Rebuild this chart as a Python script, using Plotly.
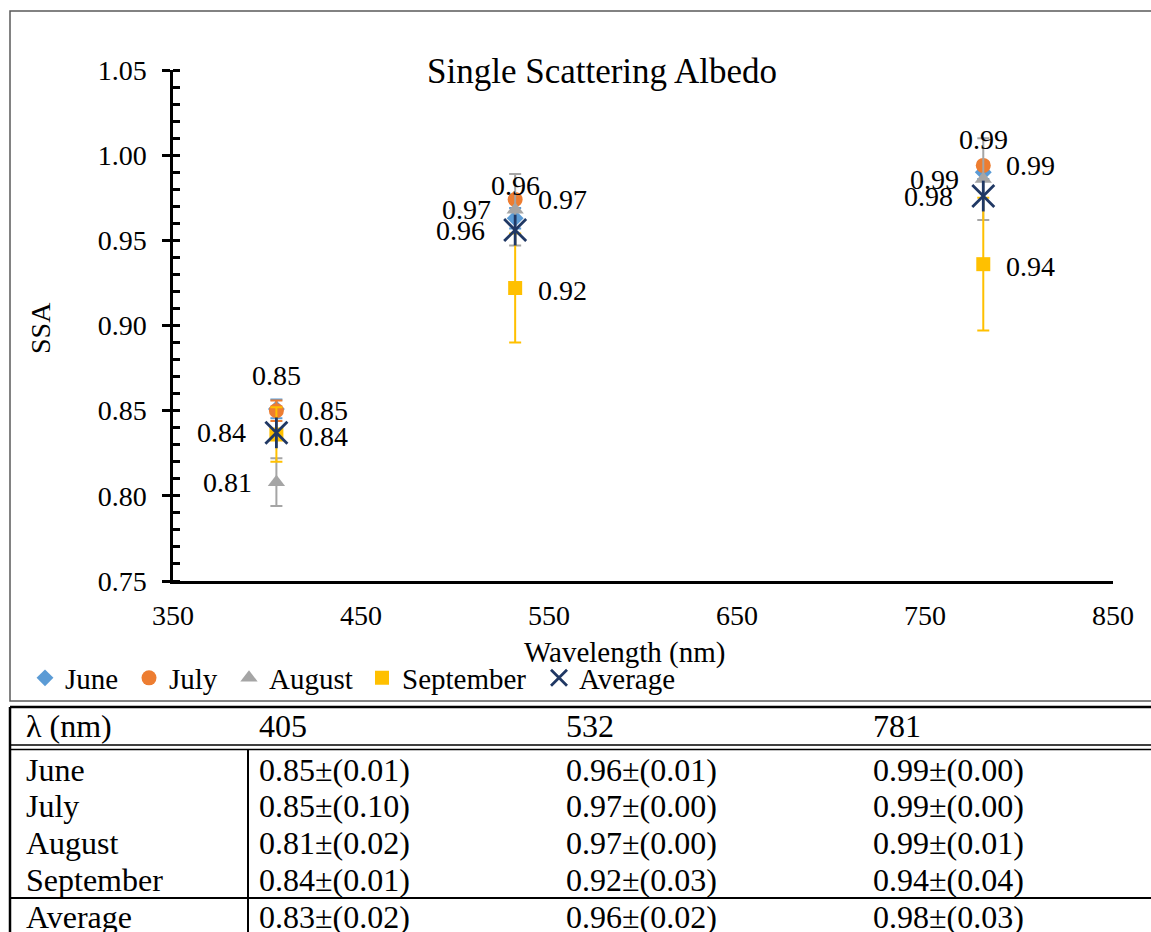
import plotly.graph_objects as go

# ---- data -------------------------------------------------------------
wavelengths = [405, 532, 781]

june = [0.851, 0.963, 0.990]
july = [0.850, 0.974, 0.994]
august = [0.808, 0.968, 0.986]
september = [0.836, 0.922, 0.936]
average = [0.837, 0.956, 0.976]

june_err = [0.0055, 0.006, 0.004]
july_err = [0.006, 0.002, 0.002]
august_err = [0.014, 0.021, 0.024]
september_err = [0.016, 0.032, 0.039]

x_ticks = [350, 450, 550, 650, 750, 850]
y_ticks = [0.75, 0.80, 0.85, 0.90, 0.95, 1.00, 1.05]

table_header = ["λ (nm)", "405", "532", "781"]
table_rows = [
    ["June", "0.85±(0.01)", "0.96±(0.01)", "0.99±(0.00)"],
    ["July", "0.85±(0.10)", "0.97±(0.00)", "0.99±(0.00)"],
    ["August", "0.81±(0.02)", "0.97±(0.00)", "0.99±(0.01)"],
    ["September", "0.84±(0.01)", "0.92±(0.03)", "0.94±(0.04)"],
    ["Average", "0.83±(0.02)", "0.96±(0.02)", "0.98±(0.03)"],
]

# ---- page geometry (pixels) --------------------------------------------
W, H = 1151, 932
FONT = "Liberation Serif, Times New Roman, serif"


def px(x):
    return x / W


def py(y):
    return 1 - y / H


colors = {
    "June": "#5B9BD5",
    "July": "#ED7D31",
    "August": "#A5A5A5",
    "September": "#FFC000",
    "Average": "#203864",
}

# one legend box per series so the entries sit at fixed positions in a row
legend_ids = ["legend", "legend2", "legend3", "legend4", "legend5"]
legend_x = [25, 129, 229, 362, 539]

fig = go.Figure()

series = [
    ("June", june, june_err, "diamond", 13),
    ("July", july, july_err, "circle", 15),
    ("August", august, august_err, "triangle-up", 15),
    ("September", september, september_err, "square", 14),
]
for k, (name, vals, err, sym, size) in enumerate(series):
    fig.add_trace(go.Scatter(
        x=wavelengths, y=vals, name=name, mode="markers", legend=legend_ids[k],
        marker=dict(symbol=sym, size=size, color=colors[name], line=dict(width=0)),
        error_y=dict(type="data", array=err, visible=True, color=colors[name],
                     thickness=2, width=6),
    ))

# Average: star marker built from an X and a vertical stroke
fig.add_trace(go.Scatter(
    x=wavelengths, y=average, name="Average", mode="markers", legend=legend_ids[4],
    marker=dict(symbol="x-thin-open", size=22,
                line=dict(width=2.8, color=colors["Average"]), color=colors["Average"]),
))
fig.add_trace(go.Scatter(
    x=wavelengths, y=average, name="Average", mode="markers", showlegend=False,
    marker=dict(symbol="line-ns-open", size=22,
                line=dict(width=2.8, color=colors["Average"]), color=colors["Average"]),
))

# ---- data labels ----------------------------------------------------------
annotations = []
label_font = dict(family=FONT, size=28, color="black")


def add_label(x, y, xanchor, xshift, yshift):
    annotations.append(dict(
        x=x, y=y, xref="x", yref="y", text=f"{y:.2f}", showarrow=False,
        xanchor=xanchor, yanchor="middle", xshift=xshift, yshift=yshift,
        font=label_font,
    ))


for i, w in enumerate(wavelengths):
    add_label(w, june[i], "center", 0, 33)
    add_label(w, july[i], "left", 21, 0)
    add_label(w, august[i], "right", -22, 0)
    add_label(w, september[i], "left", 21, -2)
    add_label(w, average[i], "right", -28, 0)

# ---- titles -----------------------------------------------------------------
annotations.append(dict(
    x=px(602), y=py(71), xref="paper", yref="paper", text="Single Scattering Albedo",
    showarrow=False, xanchor="center", yanchor="middle",
    font=dict(family=FONT, size=35, color="black"),
))
annotations.append(dict(
    x=px(624), y=py(652), xref="paper", yref="paper", text="Wavelength (nm)",
    showarrow=False, xanchor="center", yanchor="middle",
    font=dict(family=FONT, size=29, color="black"),
))
annotations.append(dict(
    x=px(40), y=py(328), xref="paper", yref="paper", text="SSA", textangle=-90,
    showarrow=False, xanchor="center", yanchor="middle",
    font=dict(family=FONT, size=28, color="black"),
))

# ---- table ------------------------------------------------------------------
table_font = dict(family=FONT, size=32, color="black")
col_x = [24, 257, 564, 871]
header_y = 726
row_y = [770, 806, 843, 880, 917]

for cx, txt in zip(col_x, table_header):
    annotations.append(dict(
        x=px(cx), y=py(header_y), xref="paper", yref="paper", text=txt,
        showarrow=False, xanchor="left", yanchor="middle", font=table_font,
    ))
for ry, row in zip(row_y, table_rows):
    for cx, txt in zip(col_x, row):
        annotations.append(dict(
            x=px(cx), y=py(ry), xref="paper", yref="paper", text=txt,
            showarrow=False, xanchor="left", yanchor="middle", font=table_font,
        ))

shapes = [
    # chart frame
    dict(type="rect", xref="paper", yref="paper", x0=px(10), y0=py(11), x1=px(1170), y1=py(701),
         line=dict(color="#595959", width=1.5)),
    # table borders
    dict(type="line", xref="paper", yref="paper", x0=px(10), y0=py(707), x1=px(1170), y1=py(707),
         line=dict(color="black", width=2.5)),
    dict(type="line", xref="paper", yref="paper", x0=px(10), y0=py(707), x1=px(10), y1=py(940),
         line=dict(color="black", width=2.5)),
    dict(type="line", xref="paper", yref="paper", x0=px(10), y0=py(745), x1=px(1170), y1=py(745),
         line=dict(color="black", width=1.5)),
    dict(type="line", xref="paper", yref="paper", x0=px(10), y0=py(749.5), x1=px(1170), y1=py(749.5),
         line=dict(color="black", width=1.5)),
    dict(type="line", xref="paper", yref="paper", x0=px(248), y0=py(749.5), x1=px(248), y1=py(940),
         line=dict(color="black", width=2)),
    dict(type="line", xref="paper", yref="paper", x0=px(10), y0=py(898), x1=px(1170), y1=py(898),
         line=dict(color="black", width=2)),
]

tick_font = dict(family=FONT, size=28, color="black")

legend_style = dict(
    orientation="h", y=py(678), xanchor="left", yanchor="middle",
    font=dict(family=FONT, size=29, color="black"), bgcolor="rgba(0,0,0,0)",
    itemwidth=30, tracegroupgap=0, borderwidth=0,
)
legends = {lid: dict(legend_style, x=px(lx)) for lid, lx in zip(legend_ids, legend_x)}

fig.update_layout(
    width=W, height=H,
    margin=dict(l=0, r=0, t=0, b=0, pad=0, autoexpand=False),
    paper_bgcolor="white", plot_bgcolor="white",
    font=dict(family=FONT, color="black"),
    showlegend=True,
    xaxis=dict(
        domain=[px(173), px(1113)], range=[350, 850], tickvals=x_ticks,
        ticks="", showgrid=False, zeroline=False, automargin=False,
        showline=True, linecolor="black", linewidth=2.5,
        tickfont=tick_font, ticklabelstandoff=8,
    ),
    yaxis=dict(
        domain=[py(581), py(70)], range=[0.75, 1.05], tickvals=y_ticks, tickformat=".2f",
        ticks="outside", ticklen=8, tickwidth=2.5, tickcolor="black",
        minor=dict(ticks="inside", dtick=0.01, ticklen=7, tickwidth=2.5, tickcolor="black",
                   showgrid=False),
        showgrid=False, zeroline=False, automargin=False,
        showline=True, linecolor="black", linewidth=2.5,
        tickfont=tick_font, ticklabelstandoff=10,
    ),
    annotations=annotations,
    shapes=shapes,
    **legends,
)

fig.write_html("out.html")
